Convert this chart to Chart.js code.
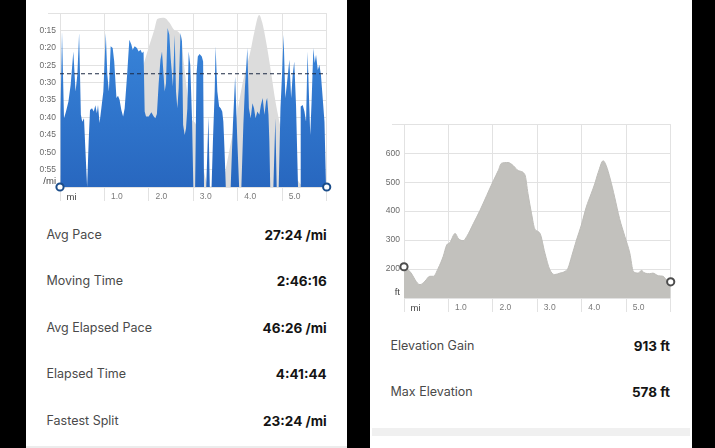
<!DOCTYPE html>
<html><head><meta charset="utf-8">
<script src="https://cdn.jsdelivr.net/npm/chart.js@4.4.1/dist/chart.umd.min.js"></script>
<style>
html,body{margin:0;padding:0;background:#000;width:715px;height:448px;overflow:hidden;}
.panel{position:absolute;top:0;height:448px;background:#fff;overflow:hidden;}
#lp{left:26px;width:321px;}
#rp{left:370px;width:322px;}
canvas{position:absolute;left:0;}
.row{position:absolute;height:20px;line-height:20px;font-family:Inter,'Liberation Sans',sans-serif;}
.lab{position:absolute;left:0;top:0;font-size:12.5px;color:#4a4a4a;white-space:nowrap;}
.val{position:absolute;right:0;top:0;font-size:13.5px;font-weight:700;color:#141414;white-space:nowrap;}
#lbar{position:absolute;left:0;top:446px;width:321px;height:2px;background:#ececec;}
#rbar{position:absolute;left:2px;top:428px;width:318px;height:8px;background:#f0f0f0;}
</style></head>
<body>
<div class="panel" id="lp">
  <canvas id="paceChart" width="321" height="215" style="top:0"></canvas>
  <div id="lstats"></div>
  <div id="lbar"></div>
</div>
<div class="panel" id="rp">
  <canvas id="elevChart" width="322" height="215" style="top:111px"></canvas>
  <div id="rstats"></div>
  <div id="rbar"></div>
</div>
<script>
// ---------- data ----------
const mileTickLabels = ['mi','1.0','2.0','3.0','4.0','5.0',''];
const paceTickLabels = ['','0:15','0:20','0:25','0:30','0:35','0:40','0:45','0:50','0:55','/mi'];
const elevTickLabels = ['ft','200','300','400','500','600',''];

const elevMiles = [0,0.13,0.36,0.47,0.58,0.66,0.77,0.88,0.96,1.03,1.15,1.22,1.33,1.41,1.56,1.71,1.86,2.01,2.12,2.19,2.34,2.46,2.57,2.72,2.79,2.87,2.94,3.06,3.17,3.28,3.39,3.51,3.62,3.69,3.77,3.88,3.99,4.10,4.21,4.29,4.37,4.48,4.55,4.64,4.74,4.85,4.97,5.08,5.16,5.27,5.34,5.42,5.53,5.60,5.72,5.83,5.90,6.0];
const elevFeet  = [208,192,146,158,175,175,203,243,283,291,323,306,298,312,357,403,454,505,540,565,568,557,540,526,460,391,340,323,255,198,181,186,192,203,243,300,352,414,460,494,534,574,557,511,448,374,312,255,192,186,195,186,184,186,177,175,164,156];

const paceMiles = [
 0,0.012,0.045,0.09,0.135,0.19,0.24,0.30,0.35,0.39,0.43,
 0.47,0.50,0.54,0.57,0.61,0.645,0.675,0.72,0.76,0.795,
 0.83,0.855,0.89,0.93,0.975,1.03,1.065,1.10,1.14,1.185,
 1.22,1.27,1.305,1.34,1.38,1.42,1.455,1.51,1.56,1.605,
 1.635,1.68,1.73,1.77,1.81,1.845,1.88,1.905,1.935,1.995,
 2.055,2.11,2.145,2.18,2.22,2.26,2.295,2.33,2.355,2.385,
 2.42,2.46,2.49,2.52,2.54,2.58,2.61,2.64,2.67,2.71,
 2.745,2.77,2.805,2.835,2.865,2.895,2.93,2.97,3.0,3.04,
 3.07,3.10,3.14,3.19,3.22,3.24,3.29,3.34,3.37,3.41,
 3.44,3.48,3.50,3.54,3.58,3.615,3.65,3.675,3.70,3.73,
 3.84,3.89,3.94,3.99,4.03,4.08,4.125,4.16,4.215,4.25,
 4.29,4.33,4.365,4.40,4.44,4.485,4.52,4.56,4.60,4.635,
 4.66,4.69,4.71,4.73,4.80,4.845,4.875,4.92,4.96,4.995,
 5.03,5.07,5.11,5.16,5.20,5.235,5.27,5.31,5.33,5.355,
 5.40,5.415,5.46,5.50,5.535,5.57,5.61,5.63,5.66,5.70,
 5.73,5.76,5.80,5.835,5.87,5.91,5.95,5.985,6.0];
const paceMinutes = [
 60,38,15.2,40.2,38.3,35.4,30.6,21.0,32.5,27.7,15.7,
 39.2,41.2,40.2,48.9,60,46.9,37.8,37.3,38.3,36.5,
 38.8,36.4,41.6,37.3,32.5,15.7,27.7,32.5,19.5,20.0,
 23.9,34.4,33.7,34.9,37.8,39.7,37.3,27.7,17.6,19.0,
 20.5,19.5,20.0,21.0,20.5,21.4,21.0,38.3,39.7,39.7,
 38.5,39.7,40.2,39.0,30.1,23.4,21.0,27.7,32.5,30.1,
 14.2,16.2,22.9,27.7,31.1,16.2,32.5,37.3,31.5,15.7,
 18.1,42.1,45.0,43.1,37.3,21.0,24.8,40.2,60,60,
 27.7,22.4,21.7,22.4,23.9,60,60,39.7,60,60,
 46.9,32.5,19.5,32.5,36.8,37.3,38.3,41.2,48.9,60,
 60,42.1,28.2,46.9,60,60,42.1,31.5,20.0,37.3,
 40.2,35.9,37.3,40.2,38.3,39.2,36.4,34.4,39.2,35.4,
 34.4,39.2,46.9,60,60,40.2,60,60,37.3,27.7,
 16.2,34.4,29.6,23.4,34.4,27.7,23.9,36.4,46.9,60,
 60,36.8,36.4,38.3,41.2,21.0,37.3,45.0,35.4,20.0,
 24.3,21.9,26.3,24.8,27.7,34.4,41.2,60,60];
const avgPaceMinutes = 27.4; // 27:24 /mi

const paceStatLabels = ['Avg Pace','Moving Time','Avg Elapsed Pace','Elapsed Time','Fastest Split'];
const paceStatValues = ['27:24 /mi','2:46:16','46:26 /mi','4:41:44','23:24 /mi'];
const elevStatLabels = ['Elevation Gain','Max Elevation'];
const elevStatValues = ['913 ft','578 ft'];

// ---------- stats text ----------
function buildRows(id, labels, values, firstCenter, step, width){
  const host = document.getElementById(id);
  labels.forEach((l,i)=>{
    const r = document.createElement('div');
    r.className='row';
    r.style.left='20.5px'; r.style.width=width+'px';
    r.style.top=(firstCenter + i*step - 10)+'px';
    r.innerHTML='<span class="lab"></span><span class="val"></span>';
    r.children[0].textContent=l; r.children[1].textContent=values[i];
    host.appendChild(r);
  });
}
buildRows('lstats', paceStatLabels, paceStatValues, 235, 46.4, 280.2);
buildRows('rstats', elevStatLabels, elevStatValues, 345.7, 46, 279.5);

// ---------- charts ----------
const GRID = '#e2e2e2';
const FAM = "'Liberation Sans', Arial, sans-serif";
const isLast = (ctx) => ctx.dataIndex === ctx.dataset.data.length - 1;
const UNITS = ['/mi','ft'];

function xAxis(){
  return {
    type:'linear', min:0, max:6, position:'bottom',
    ticks:{stepSize:1, autoSkip:false, maxRotation:0, minRotation:0, align:'start', labelOffset:6.5, padding:-9,
      callback:(v)=>mileTickLabels[Math.round(v)],
      color:(c)=> c.tick && c.tick.value===0 ? '#444' : '#7a7a7a',
      font:(c)=> c.tick && c.tick.value===0 ? {family:FAM,size:9.5} : {family:FAM,size:8.5}},
    grid:{color:GRID, lineWidth:1, drawTicks:true, tickLength:14, tickColor:GRID},
    border:{color:GRID},
    afterFit:(s)=>{ s.width = s.width; s.height = 28; }
  };
}
// y axis whose tick label is looked up from a label array by value
function yAxis(labels, min, max, step, reverse){
  const lab = (v)=> labels[Math.round((v-min)/step)];
  const topVal = reverse ? min : max;
  return {
    type:'linear', position:'left', min:min, max:max, reverse:reverse,
    ticks:{stepSize:step, autoSkip:false, padding:-8,
      callback:(v)=> UNITS.includes(lab(v)) ? [lab(v),''] : lab(v),
      color:(c)=> c.tick && UNITS.includes(lab(c.tick.value)) ? '#444' : '#6a6a6a',
      font:(c)=> c.tick && UNITS.includes(lab(c.tick.value)) ? {family:FAM,size:9.5} : {family:FAM,size:8.5}},
    grid:{color:GRID, lineWidth:1, drawTicks:true, tickLength:12,
      tickColor:(c)=> c.tick && c.tick.value===topVal ? GRID : 'rgba(0,0,0,0)'},
    border:{color:GRID},
    afterFit:(s)=>{ s.width = 34; }
  };
}
function baseOpts(rightPad, scales){
  return {
    responsive:false, animation:false, events:[],
    layout:{padding:{left:0,top:13.3,right:rightPad,bottom:0}},
    plugins:{legend:{display:false}, tooltip:{enabled:false}},
    scales:scales
  };
}

const elevPoints = elevMiles.map((m,i)=>({x:m,y:elevFeet[i]}));
const pacePoints = paceMiles.map((m,i)=>({x:m,y:paceMinutes[i]}));
const avgPoints = [{x:paceMiles[0],y:avgPaceMinutes},{x:paceMiles[paceMiles.length-1],y:avgPaceMinutes}];

new Chart(document.getElementById('paceChart'), {
  type:'line',
  data:{datasets:[
    {data:avgPoints, yAxisID:'y', borderColor:'#1d2a44', borderWidth:1.2, borderDash:[4,3],
     pointRadius:0, fill:false, order:0},
    {data:pacePoints, yAxisID:'y', borderWidth:0, borderColor:'rgba(0,0,0,0)',
     backgroundColor:(c)=>{
       const ch=c.chart, a=ch.chartArea;
       if(!a) return '#2f7ad4';
       const g=ch.ctx.createLinearGradient(0,a.top,0,a.bottom);
       g.addColorStop(0,'#3a88dd'); g.addColorStop(1,'#2867bf'); return g;
     },
     fill:{value:60}, tension:0, clip:false, order:1,
     pointRadius:(c)=> (c.dataIndex===0||isLast(c)) ? 3.6 : 0,
     pointBorderColor:'#1b4d8a', pointBackgroundColor:'#fff', pointBorderWidth:2},
    {data:elevPoints, yAxisID:'yE', borderWidth:0, borderColor:'rgba(0,0,0,0)',
     backgroundColor:'#dcdcdc', fill:'start', cubicInterpolationMode:'monotone', pointRadius:0, order:2}
  ]},
  options:baseOpts(20.3, {
    x:xAxis(),
    y:yAxis(paceTickLabels, 10, 60, 5, true),
    yE:{type:'linear', display:false, min:180, max:578}
  })
});

new Chart(document.getElementById('elevChart'), {
  type:'line',
  data:{datasets:[
    {data:elevPoints, borderWidth:1, borderColor:'#bdbcb8', backgroundColor:'#c2c1bd',
     fill:'start', cubicInterpolationMode:'monotone', clip:false,
     pointRadius:(c)=> (c.dataIndex===0||isLast(c)) ? 3.6 : 0,
     pointBorderColor:'#4d4d4d', pointBackgroundColor:'#fff', pointBorderWidth:2}
  ]},
  options:baseOpts(21.3, {
    x:xAxis(),
    y:yAxis(elevTickLabels, 100, 700, 100, false)
  })
});
</script>
</body></html>
